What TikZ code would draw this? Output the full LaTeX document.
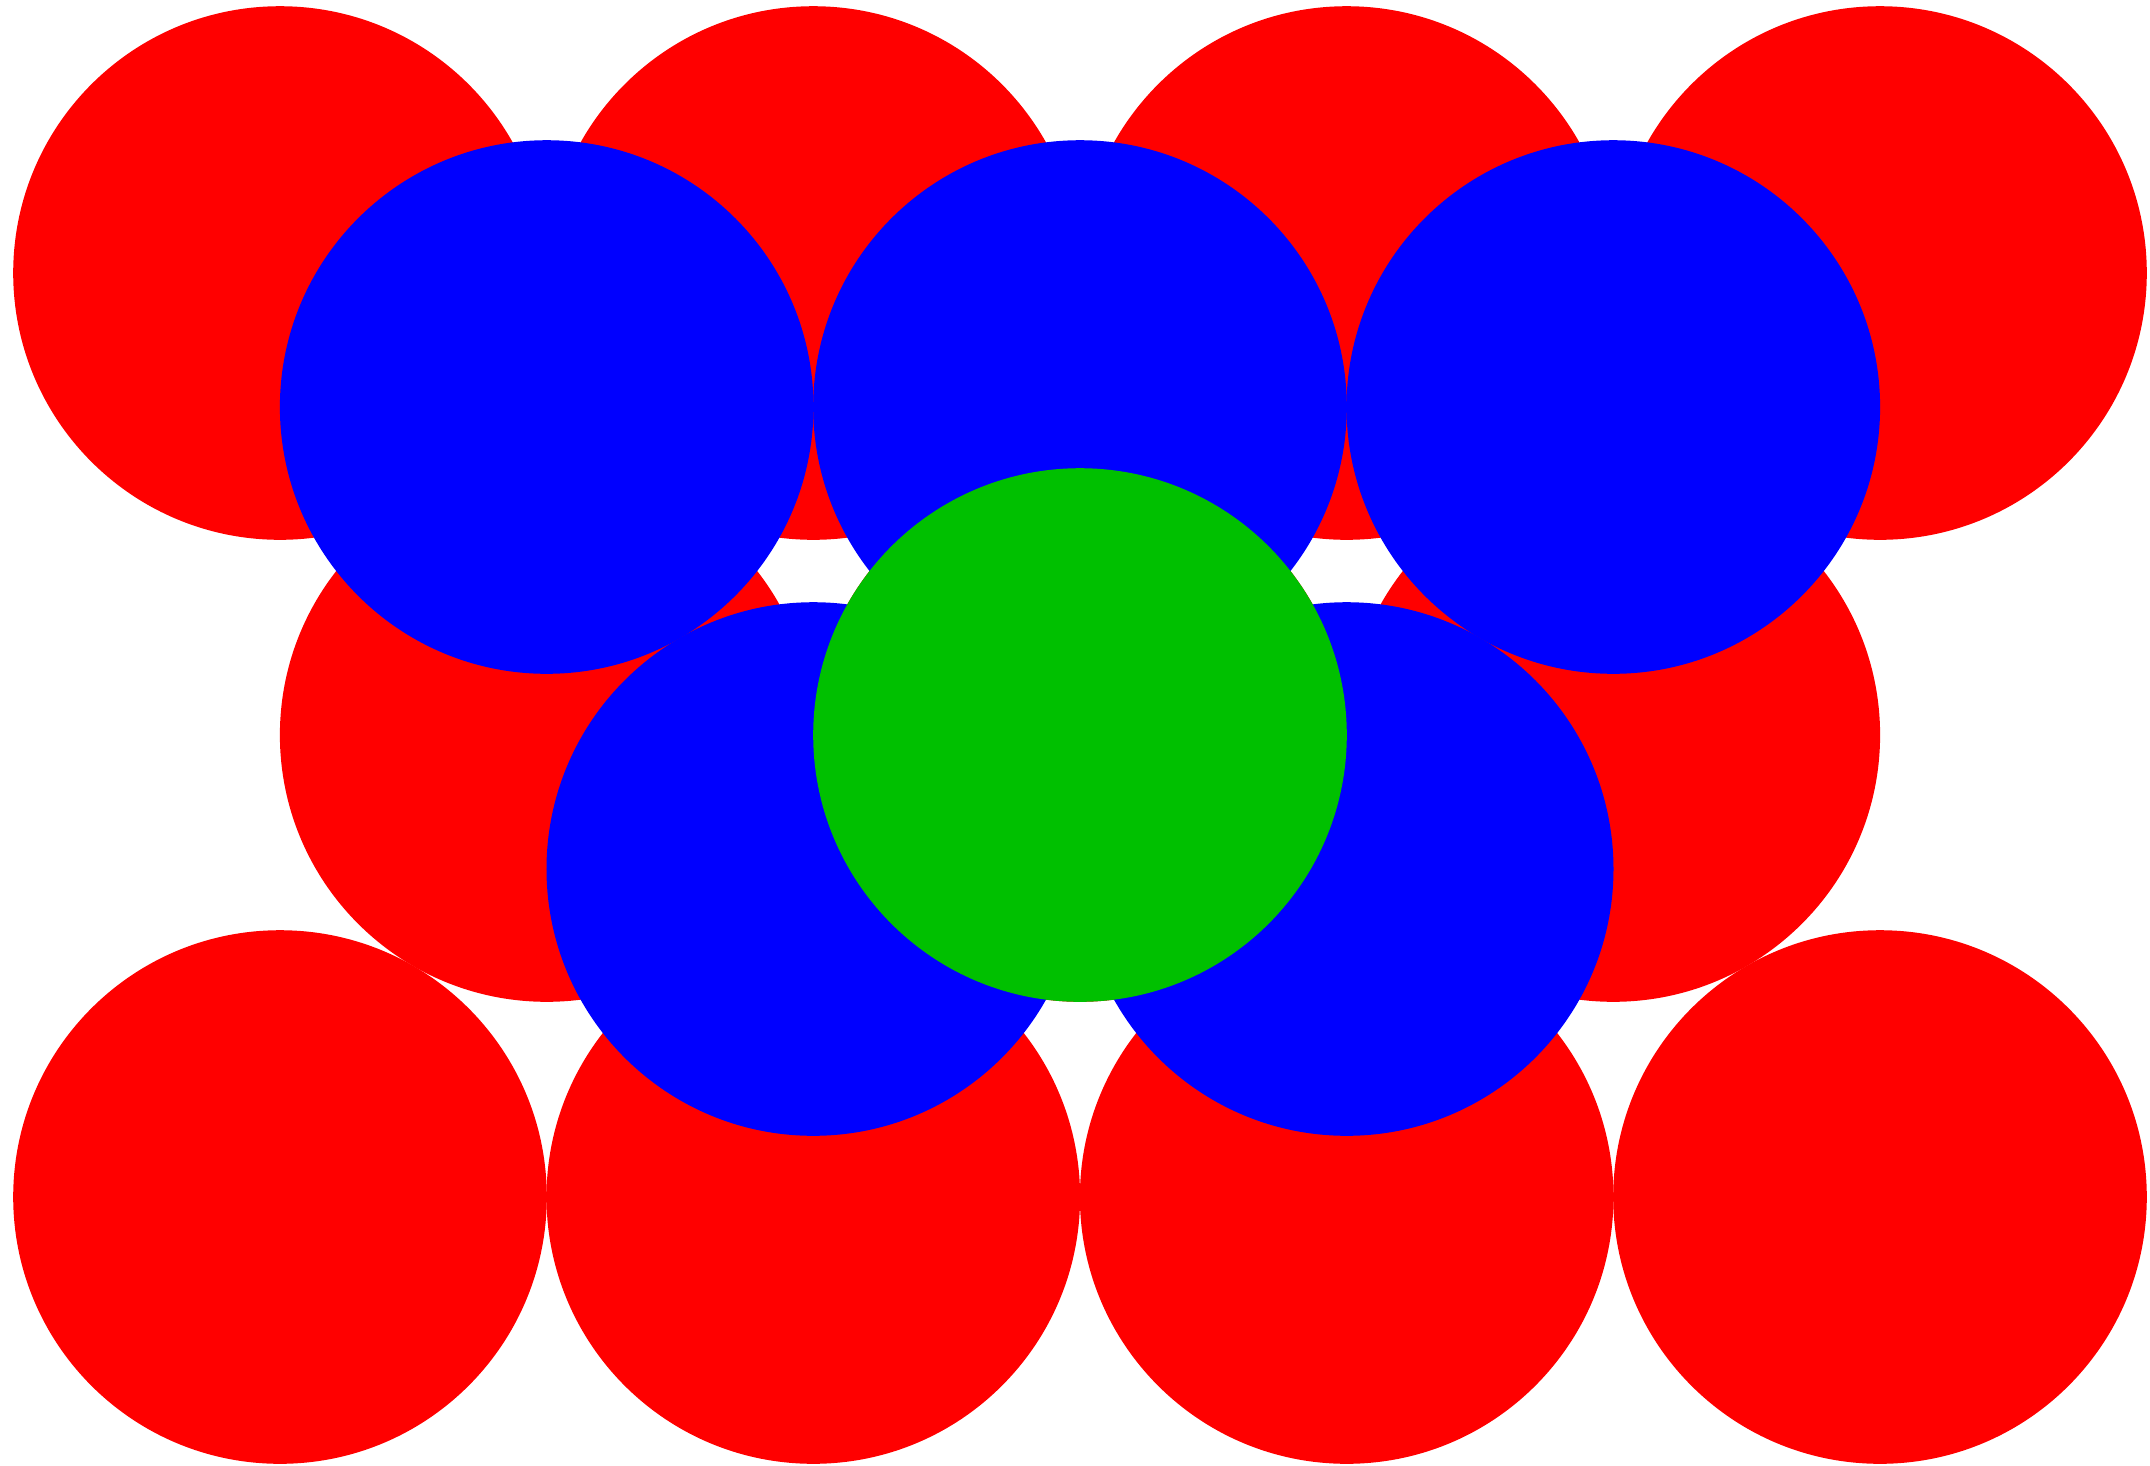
\documentclass[tikz,border=0pt]{standalone}
\usepackage{tikz}
\usetikzlibrary{positioning}
\definecolor{clLower}{HTML}{FF0000}
\definecolor{clMiddle}{HTML}{0000FF}
\definecolor{clUpper}{HTML}{00C000}
\tikzset{
  ball/.style={circle, inner sep=0pt, minimum size=5.333cm, draw=none},
  lowerball/.style={ball, fill=clLower},
  middleball/.style={ball, fill=clMiddle},
  upperball/.style={ball, fill=clUpper},
}
\begin{document}
\begin{tikzpicture}[x=0.01cm, y=-0.01cm]
  \useasboundingbox (0,0) rectangle (2150,1465);
  % lower layer
  \foreach \i/\x in {1/280, 2/813.3, 3/1346.7, 4/1880} {
    \node[lowerball] (ltop\i) at (\x,273) {};
  }
  \foreach \i/\x in {1/546.7, 2/1080, 3/1613.3} {
    \node[lowerball] (lmid\i) at (\x,735) {};
  }
  \foreach \i/\x in {1/280, 2/813.3, 3/1346.7, 4/1880} {
    \node[lowerball] (lbot\i) at (\x,1197) {};
  }
  % middle layer
  \foreach \i/\x in {1/546.7, 2/1080, 3/1613.3} {
    \node[middleball] (mtop\i) at (\x,407) {};
  }
  \foreach \i/\x in {1/813.3, 2/1346.7} {
    \node[middleball] (mbot\i) at (\x,869) {};
  }
  % upper layer
  \node[upperball] (up) at (1080,735) {};
\end{tikzpicture}
\end{document}
